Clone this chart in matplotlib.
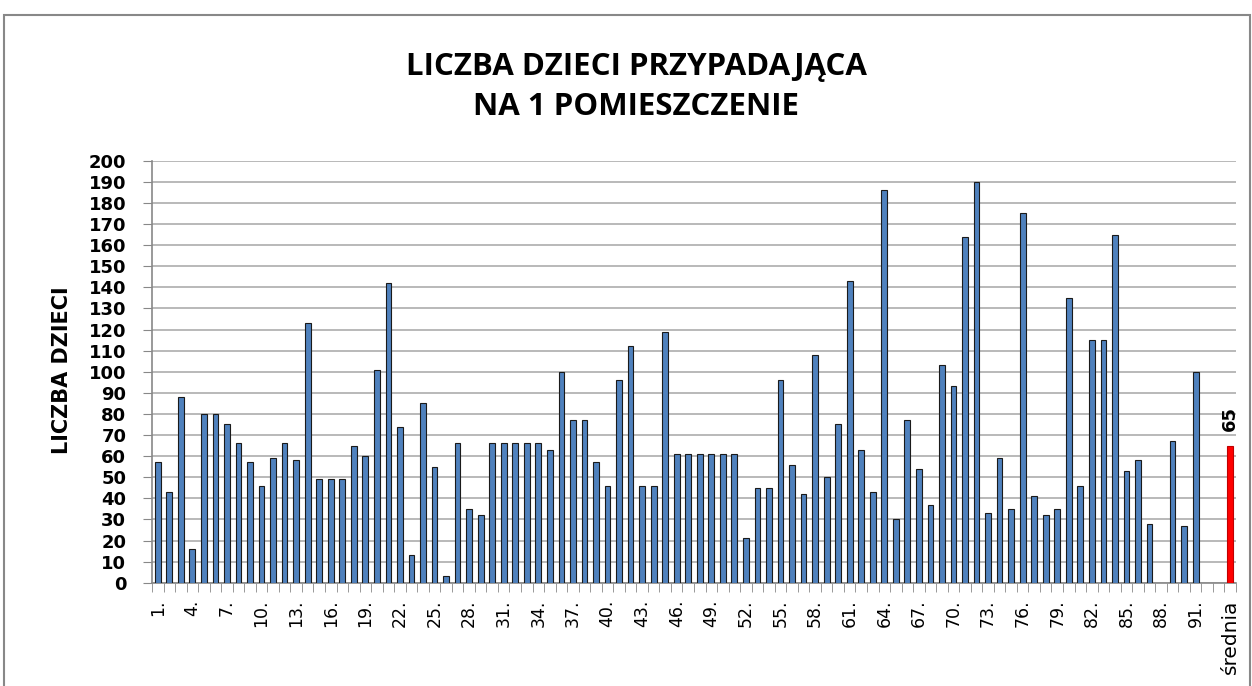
import numpy as np
import matplotlib.pyplot as plt
from matplotlib.patches import Rectangle

# liczba dzieci na 1 pomieszczenie, placowki 1..93 (None = brak danych)
VALUES = [57, 43, 88, 16, 80, 80, 75, 66, 57, 46,
          59, 66, 58, 123, 49, 49, 49, 65, 60, 101,
          142, 74, 13, 85, 55, 3, 66, 35, 32, 66,
          66, 66, 66, 66, 63, 100, 77, 77, 57, 46,
          96, 112, 46, 46, 119, 61, 61, 61, 61, 61,
          61, 21, 45, 45, 96, 56, 42, 108, 50, 75,
          143, 63, 43, 186, 30, 77, 54, 37, 103, 93,
          164, 190, 33, 59, 35, 175, 41, 32, 35, 135,
          46, 115, 115, 165, 53, 58, 28, None, 67, 27,
          100, None, None]
MEAN_LABEL = 'średnia'
MEAN_VALUE = 65

CATEGORIES = [f'{i}.' for i in range(1, len(VALUES) + 1)] + [MEAN_LABEL]
TITLE = 'LICZBA DZIECI PRZYPADAJĄCA\nNA 1 POMIESZCZENIE'
YLABEL = 'LICZBA DZIECI'

W, H = 1252, 686
fig = plt.figure(figsize=(W / 100, H / 100), dpi=100)
ax = fig.add_axes([152 / W, 1 - 582.7 / H, (1236 - 152) / W, (582.7 - 160.7) / H])

vals = np.array([np.nan if v is None else v for v in VALUES], dtype=float)
x = np.arange(len(vals))
mask = ~np.isnan(vals)
ax.bar(x[mask], vals[mask], width=0.5, color='#4F81BD', edgecolor='#1A1A1A',
       linewidth=0.8, zorder=3)
xm = len(vals)
ax.bar([xm], [MEAN_VALUE], width=0.5, color='#FF0000', edgecolor='#C00000',
       linewidth=0.8, zorder=3)
ax.text(xm, MEAN_VALUE + 7, str(MEAN_VALUE), rotation=90, ha='center', va='bottom',
        fontsize=13, fontweight='bold')

ax.set_xlim(-0.5, len(CATEGORIES) - 0.5)
ax.set_ylim(0, 200)
ax.set_yticks(np.arange(0, 201, 10))
ax.tick_params(axis='y', labelsize=13, length=6.5, color='#888888', pad=12)
for lab in ax.get_yticklabels():
    lab.set_fontweight('bold')

major = list(range(0, len(VALUES), 3)) + [xm]
ax.set_xticks(major)
ax.set_xticklabels([CATEGORIES[i] for i in major], rotation=90, fontsize=12.5)
ax.get_xticklabels()[-1].set_fontsize(14.5)
ax.set_xticks(np.arange(-0.5, len(CATEGORIES), 1), minor=True)
ax.tick_params(axis='x', which='major', length=0, pad=12)
ax.tick_params(axis='x', which='minor', length=6.5, color='#888888')

ax.grid(axis='y', color='#A6A6A6', linewidth=1.1, zorder=0)
ax.set_axisbelow(True)
for s in ['top', 'right']:
    ax.spines[s].set_visible(False)
for s in ['left', 'bottom']:
    ax.spines[s].set_color('#888888')
    ax.spines[s].set_linewidth(1.2)

fig.text(62 / W, 1 - 370 / H, YLABEL, rotation=90, ha='center', va='center',
         fontsize=15, fontweight='bold')
fig.text(636 / W, 1 - 87 / H, TITLE, ha='center', va='center', fontsize=22.5,
         fontweight='bold', family='Open Sans', linespacing=1.4)

# ramka wykresu
fig.patches.append(Rectangle((4 / W, -0.1), (W - 6) / W, 1.1 - 15 / H,
                             transform=fig.transFigure, fill=False,
                             edgecolor='#888888', linewidth=1.5))

fig.savefig('out.png', dpi=100)
